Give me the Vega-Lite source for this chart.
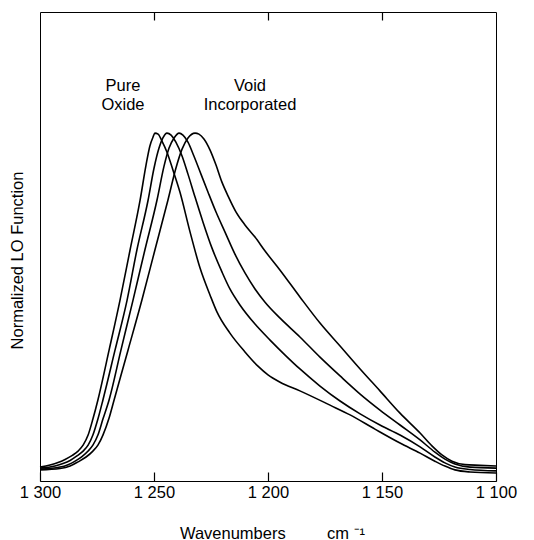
{
  "$schema": "https://vega.github.io/schema/vega-lite/v6.json",
  "width": 456,
  "height": 469,
  "autosize": {"type": "none"},
  "padding": {"left": 40, "top": 12, "right": 38, "bottom": 59},
  "config": {"view": {"stroke": "#000", "strokeWidth": 1}, "font": "Liberation Sans"},
  "datasets": {
    "curves": [
      {"series": "Pure oxide", "wn": 1300.0, "y": 0.040},
      {"series": "Pure oxide", "wn": 1295.6, "y": 0.046},
      {"series": "Pure oxide", "wn": 1292.1, "y": 0.053},
      {"series": "Pure oxide", "wn": 1289.0, "y": 0.062},
      {"series": "Pure oxide", "wn": 1286.0, "y": 0.073},
      {"series": "Pure oxide", "wn": 1283.3, "y": 0.086},
      {"series": "Pure oxide", "wn": 1281.1, "y": 0.103},
      {"series": "Pure oxide", "wn": 1278.9, "y": 0.132},
      {"series": "Pure oxide", "wn": 1276.8, "y": 0.178},
      {"series": "Pure oxide", "wn": 1274.6, "y": 0.233},
      {"series": "Pure oxide", "wn": 1269.7, "y": 0.376},
      {"series": "Pure oxide", "wn": 1264.9, "y": 0.520},
      {"series": "Pure oxide", "wn": 1260.5, "y": 0.664},
      {"series": "Pure oxide", "wn": 1256.1, "y": 0.807},
      {"series": "Pure oxide", "wn": 1253.5, "y": 0.908},
      {"series": "Pure oxide", "wn": 1251.8, "y": 0.963},
      {"series": "Pure oxide", "wn": 1250.4, "y": 0.989},
      {"series": "Pure oxide", "wn": 1249.6, "y": 1.000},
      {"series": "Pure oxide", "wn": 1248.2, "y": 0.997},
      {"series": "Pure oxide", "wn": 1246.5, "y": 0.977},
      {"series": "Pure oxide", "wn": 1244.3, "y": 0.945},
      {"series": "Pure oxide", "wn": 1241.7, "y": 0.894},
      {"series": "Pure oxide", "wn": 1238.6, "y": 0.830},
      {"series": "Pure oxide", "wn": 1234.2, "y": 0.716},
      {"series": "Pure oxide", "wn": 1229.8, "y": 0.612},
      {"series": "Pure oxide", "wn": 1225.4, "y": 0.534},
      {"series": "Pure oxide", "wn": 1222.4, "y": 0.486},
      {"series": "Pure oxide", "wn": 1216.7, "y": 0.425},
      {"series": "Pure oxide", "wn": 1210.1, "y": 0.371},
      {"series": "Pure oxide", "wn": 1204.4, "y": 0.330},
      {"series": "Pure oxide", "wn": 1200.0, "y": 0.305},
      {"series": "Pure oxide", "wn": 1194.7, "y": 0.284},
      {"series": "Pure oxide", "wn": 1186.0, "y": 0.259},
      {"series": "Pure oxide", "wn": 1172.8, "y": 0.218},
      {"series": "Pure oxide", "wn": 1164.0, "y": 0.190},
      {"series": "Pure oxide", "wn": 1153.1, "y": 0.149},
      {"series": "Pure oxide", "wn": 1142.1, "y": 0.109},
      {"series": "Pure oxide", "wn": 1133.3, "y": 0.080},
      {"series": "Pure oxide", "wn": 1126.8, "y": 0.057},
      {"series": "Pure oxide", "wn": 1122.4, "y": 0.043},
      {"series": "Pure oxide", "wn": 1118.0, "y": 0.032},
      {"series": "Pure oxide", "wn": 1111.4, "y": 0.026},
      {"series": "Pure oxide", "wn": 1100.0, "y": 0.023},

      {"series": "Void 1", "wn": 1300.0, "y": 0.037},
      {"series": "Void 1", "wn": 1293.4, "y": 0.043},
      {"series": "Void 1", "wn": 1289.9, "y": 0.050},
      {"series": "Void 1", "wn": 1286.8, "y": 0.059},
      {"series": "Void 1", "wn": 1283.8, "y": 0.072},
      {"series": "Void 1", "wn": 1281.1, "y": 0.086},
      {"series": "Void 1", "wn": 1278.9, "y": 0.103},
      {"series": "Void 1", "wn": 1276.8, "y": 0.132},
      {"series": "Void 1", "wn": 1274.6, "y": 0.178},
      {"series": "Void 1", "wn": 1272.4, "y": 0.233},
      {"series": "Void 1", "wn": 1267.1, "y": 0.376},
      {"series": "Void 1", "wn": 1261.8, "y": 0.520},
      {"series": "Void 1", "wn": 1257.5, "y": 0.664},
      {"series": "Void 1", "wn": 1252.6, "y": 0.807},
      {"series": "Void 1", "wn": 1250.0, "y": 0.899},
      {"series": "Void 1", "wn": 1247.8, "y": 0.957},
      {"series": "Void 1", "wn": 1246.1, "y": 0.986},
      {"series": "Void 1", "wn": 1244.3, "y": 1.000},
      {"series": "Void 1", "wn": 1242.5, "y": 0.994},
      {"series": "Void 1", "wn": 1240.4, "y": 0.974},
      {"series": "Void 1", "wn": 1237.7, "y": 0.934},
      {"series": "Void 1", "wn": 1235.1, "y": 0.882},
      {"series": "Void 1", "wn": 1232.0, "y": 0.816},
      {"series": "Void 1", "wn": 1228.5, "y": 0.744},
      {"series": "Void 1", "wn": 1224.6, "y": 0.670},
      {"series": "Void 1", "wn": 1220.2, "y": 0.601},
      {"series": "Void 1", "wn": 1216.7, "y": 0.552},
      {"series": "Void 1", "wn": 1212.3, "y": 0.506},
      {"series": "Void 1", "wn": 1205.7, "y": 0.451},
      {"series": "Void 1", "wn": 1199.1, "y": 0.405},
      {"series": "Void 1", "wn": 1192.5, "y": 0.362},
      {"series": "Void 1", "wn": 1186.0, "y": 0.322},
      {"series": "Void 1", "wn": 1177.2, "y": 0.273},
      {"series": "Void 1", "wn": 1168.4, "y": 0.230},
      {"series": "Void 1", "wn": 1159.6, "y": 0.193},
      {"series": "Void 1", "wn": 1150.9, "y": 0.161},
      {"series": "Void 1", "wn": 1142.1, "y": 0.132},
      {"series": "Void 1", "wn": 1133.3, "y": 0.098},
      {"series": "Void 1", "wn": 1126.8, "y": 0.069},
      {"series": "Void 1", "wn": 1122.4, "y": 0.052},
      {"series": "Void 1", "wn": 1118.0, "y": 0.040},
      {"series": "Void 1", "wn": 1111.4, "y": 0.033},
      {"series": "Void 1", "wn": 1100.0, "y": 0.029},

      {"series": "Void 2", "wn": 1300.0, "y": 0.034},
      {"series": "Void 2", "wn": 1291.2, "y": 0.040},
      {"series": "Void 2", "wn": 1287.7, "y": 0.047},
      {"series": "Void 2", "wn": 1284.6, "y": 0.057},
      {"series": "Void 2", "wn": 1281.6, "y": 0.070},
      {"series": "Void 2", "wn": 1278.9, "y": 0.086},
      {"series": "Void 2", "wn": 1276.8, "y": 0.103},
      {"series": "Void 2", "wn": 1274.6, "y": 0.132},
      {"series": "Void 2", "wn": 1272.4, "y": 0.178},
      {"series": "Void 2", "wn": 1269.7, "y": 0.233},
      {"series": "Void 2", "wn": 1264.5, "y": 0.376},
      {"series": "Void 2", "wn": 1259.2, "y": 0.520},
      {"series": "Void 2", "wn": 1254.0, "y": 0.664},
      {"series": "Void 2", "wn": 1248.7, "y": 0.807},
      {"series": "Void 2", "wn": 1245.6, "y": 0.905},
      {"series": "Void 2", "wn": 1243.4, "y": 0.957},
      {"series": "Void 2", "wn": 1241.2, "y": 0.986},
      {"series": "Void 2", "wn": 1239.0, "y": 1.000},
      {"series": "Void 2", "wn": 1237.3, "y": 0.994},
      {"series": "Void 2", "wn": 1235.1, "y": 0.974},
      {"series": "Void 2", "wn": 1232.5, "y": 0.934},
      {"series": "Void 2", "wn": 1229.4, "y": 0.882},
      {"series": "Void 2", "wn": 1226.3, "y": 0.830},
      {"series": "Void 2", "wn": 1222.8, "y": 0.773},
      {"series": "Void 2", "wn": 1218.9, "y": 0.716},
      {"series": "Void 2", "wn": 1214.5, "y": 0.652},
      {"series": "Void 2", "wn": 1210.1, "y": 0.598},
      {"series": "Void 2", "wn": 1205.7, "y": 0.552},
      {"series": "Void 2", "wn": 1201.3, "y": 0.514},
      {"series": "Void 2", "wn": 1194.7, "y": 0.468},
      {"series": "Void 2", "wn": 1186.0, "y": 0.414},
      {"series": "Void 2", "wn": 1177.2, "y": 0.356},
      {"series": "Void 2", "wn": 1168.4, "y": 0.302},
      {"series": "Void 2", "wn": 1159.6, "y": 0.250},
      {"series": "Void 2", "wn": 1150.9, "y": 0.204},
      {"series": "Void 2", "wn": 1142.1, "y": 0.161},
      {"series": "Void 2", "wn": 1133.3, "y": 0.118},
      {"series": "Void 2", "wn": 1126.8, "y": 0.083},
      {"series": "Void 2", "wn": 1122.4, "y": 0.063},
      {"series": "Void 2", "wn": 1118.0, "y": 0.049},
      {"series": "Void 2", "wn": 1111.4, "y": 0.040},
      {"series": "Void 2", "wn": 1100.0, "y": 0.037},

      {"series": "Void incorporated", "wn": 1300.0, "y": 0.032},
      {"series": "Void incorporated", "wn": 1291.2, "y": 0.036},
      {"series": "Void incorporated", "wn": 1286.8, "y": 0.043},
      {"series": "Void incorporated", "wn": 1283.3, "y": 0.055},
      {"series": "Void incorporated", "wn": 1279.8, "y": 0.069},
      {"series": "Void incorporated", "wn": 1276.8, "y": 0.086},
      {"series": "Void incorporated", "wn": 1274.6, "y": 0.103},
      {"series": "Void incorporated", "wn": 1272.4, "y": 0.132},
      {"series": "Void incorporated", "wn": 1269.7, "y": 0.181},
      {"series": "Void incorporated", "wn": 1267.5, "y": 0.233},
      {"series": "Void incorporated", "wn": 1261.4, "y": 0.376},
      {"series": "Void incorporated", "wn": 1255.3, "y": 0.520},
      {"series": "Void incorporated", "wn": 1249.6, "y": 0.664},
      {"series": "Void incorporated", "wn": 1243.9, "y": 0.807},
      {"series": "Void incorporated", "wn": 1240.4, "y": 0.899},
      {"series": "Void incorporated", "wn": 1237.7, "y": 0.954},
      {"series": "Void incorporated", "wn": 1235.1, "y": 0.986},
      {"series": "Void incorporated", "wn": 1232.0, "y": 1.000},
      {"series": "Void incorporated", "wn": 1230.3, "y": 0.997},
      {"series": "Void incorporated", "wn": 1228.1, "y": 0.983},
      {"series": "Void incorporated", "wn": 1225.4, "y": 0.951},
      {"series": "Void incorporated", "wn": 1222.8, "y": 0.908},
      {"series": "Void incorporated", "wn": 1220.2, "y": 0.859},
      {"series": "Void incorporated", "wn": 1217.5, "y": 0.819},
      {"series": "Void incorporated", "wn": 1214.0, "y": 0.773},
      {"series": "Void incorporated", "wn": 1210.1, "y": 0.736},
      {"series": "Void incorporated", "wn": 1205.7, "y": 0.701},
      {"series": "Void incorporated", "wn": 1201.3, "y": 0.661},
      {"series": "Void incorporated", "wn": 1194.7, "y": 0.606},
      {"series": "Void incorporated", "wn": 1186.0, "y": 0.529},
      {"series": "Void incorporated", "wn": 1177.2, "y": 0.454},
      {"series": "Void incorporated", "wn": 1168.4, "y": 0.388},
      {"series": "Void incorporated", "wn": 1159.6, "y": 0.322},
      {"series": "Void incorporated", "wn": 1150.9, "y": 0.259},
      {"series": "Void incorporated", "wn": 1142.1, "y": 0.195},
      {"series": "Void incorporated", "wn": 1133.3, "y": 0.138},
      {"series": "Void incorporated", "wn": 1128.1, "y": 0.101},
      {"series": "Void incorporated", "wn": 1123.7, "y": 0.075},
      {"series": "Void incorporated", "wn": 1119.3, "y": 0.057},
      {"series": "Void incorporated", "wn": 1113.6, "y": 0.047},
      {"series": "Void incorporated", "wn": 1107.0, "y": 0.045},
      {"series": "Void incorporated", "wn": 1100.0, "y": 0.043}
    ],
    "labels": [
      {"wn": 1263.6, "y": 1.121, "label": "Pure\nOxide"},
      {"wn": 1207.9, "y": 1.121, "label": "Void\nIncorporated"}
    ]
  },
  "layer": [
    {
      "data": {"name": "curves"},
      "mark": {"type": "line", "interpolate": "monotone", "color": "#000", "strokeWidth": 1.6},
      "encoding": {
        "x": {
          "field": "wn", "type": "quantitative",
          "scale": {"domain": [1100, 1300], "reverse": true, "nice": false, "zero": false},
          "axis": {
            "orient": "bottom", "values": [1300, 1250, 1200, 1150, 1100], "offset": -9, "zindex": 2,
            "labelExpr": "replace(format(datum.value, ','), ',', ' ')",
            "ticks": true, "tickSize": 9, "tickColor": "#000", "tickWidth": 1.2, "domain": false, "grid": false, "labelFlush": false,
            "labelFontSize": 16.5, "labelColor": "#000", "labelBaseline": "alphabetic", "labelPadding": 16,
            "title": "Wavenumbers\u00a0\u00a0\u00a0\u00a0\u00a0\u00a0\u00a0\u00a0\u00a0cm\u00a0\u207b\u00b9",
            "titleFontSize": 16.5, "titleFontWeight": "normal", "titleColor": "#000",
            "titleX": 232, "titleY": 66, "titleBaseline": "alphabetic", "titleAlign": "center"
          }
        },
        "y": {
          "field": "y", "type": "quantitative",
          "scale": {"domain": [0, 1.348], "nice": false, "zero": false},
          "axis": {
            "labels": false, "ticks": false, "domain": false, "grid": false,
            "title": "Normalized LO Function", "titleFontSize": 16.5, "titleFontWeight": "normal", "titleColor": "#000",
            "titleAngle": -90, "titleX": -23, "titleY": 248, "titleAlign": "center", "titleBaseline": "middle"
          }
        },
        "detail": {"field": "series"},
        "order": {"field": "wn", "sort": "descending"}
      }
    },
    {
      "data": {"name": "labels"},
      "mark": {"type": "text", "lineBreak": "\n", "align": "center", "baseline": "alphabetic", "fontSize": 16.5, "lineHeight": 19, "color": "#000"},
      "encoding": {
        "x": {
          "field": "wn", "type": "quantitative",
          "axis": {"orient": "top", "offset": -8, "zindex": 2, "labels": false, "title": null, "values": [1250, 1200, 1150], "ticks": true, "tickSize": 8, "tickColor": "#000", "tickWidth": 1.2, "domain": false, "grid": false}
        },
        "y": {"field": "y", "type": "quantitative"},
        "text": {"field": "label", "type": "nominal"}
      }
    }
  ],
  "resolve": {"axis": {"x": "independent"}}
}
